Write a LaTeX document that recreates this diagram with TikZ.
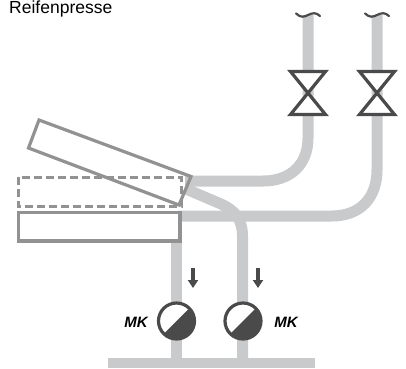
\documentclass[tikz,border=0pt]{standalone}
\usepackage{fontspec}
\setmainfont{Liberation Sans}
\usetikzlibrary{arrows.meta}
\definecolor{pipe}{HTML}{C8CACC}
\definecolor{frame}{HTML}{929292}
\definecolor{dark}{HTML}{4A4A4A}
\tikzset{
  pipeline/.style={draw=pipe,line width=11pt},
  platen/.style={draw=frame,line width=3.2pt,fill=white,miter limit=10},
  valvesym/.style={draw=dark,line width=3.2pt,line join=miter},
  wave/.style={draw=dark,line width=2.2pt,line cap=round},
  flow/.style={draw=dark,line width=3.2pt,-{Triangle[length=8pt,width=10pt]}},
  pumpring/.style={circle,draw=dark,line width=3.2pt,minimum size=36pt,inner sep=0pt,fill=white},
  mk/.style={font=\fontsize{15}{15}\selectfont\bfseries\itshape,text=black,inner sep=0pt},
  title/.style={font=\fontsize{17.5}{17.5}\selectfont,text=black,inner sep=0pt,anchor=base west}
}
\begin{document}
\begin{tikzpicture}[x=1pt,y=-1pt]
\useasboundingbox (0,0) rectangle (406,368);
% named reference points
\coordinate (t1) at (308,15);
\coordinate (t2) at (377,15);
\coordinate (h1) at (185,181);
\coordinate (h2) at (178,216);
\coordinate (d1) at (186,189);
\coordinate (b1) at (242.5,362);
\coordinate (b2) at (176.5,362);
\coordinate (s2) at (176.5,238);
% pipes
\draw[pipeline] (t1) -- (308,138) .. controls (308,165) and (290,181) .. (263,181) -- (h1);
\draw[pipeline] (t2) -- (377,170) .. controls (377,198) and (360,216) .. (332,216) -- (h2);
\draw[pipeline] (d1) -- (221,204) .. controls (235,210) and (242.5,220) .. (242.5,236) -- (b1);
\draw[pipeline] (s2) -- (b2);
\fill[pipe] (108,358) rectangle (315,368);
% valves
\foreach \n/\x in {a/308,b/377}{
  \node[inner sep=0pt] (valve\n) at (\x,93) {};
  \fill[white] (\x-19,71) -- (\x+19,71) -- (\x-19,115) -- (\x+19,115) -- cycle;
  \draw[valvesym] (\x-17.5,71.5) -- (\x+17.5,71.5) -- (\x-17.5,114.5) -- (\x+17.5,114.5) -- cycle;
  \draw[wave] (\x-12,13.5) .. controls (\x-7,18) and (\x-4,17) .. (\x,15) .. controls (\x+4,13) and (\x+8,12) .. (\x+12,16);
}
% press plates
\draw[platen] (18.5,212.5) rectangle (180,241);
\draw[platen,fill=none,line width=3pt,dash pattern=on 8pt off 4pt] (18,177) rectangle (181,206);
\draw[platen,fill=none] (39,120) -- (191,176.5) -- (179,205) -- (28.5,148) -- cycle;
% pumps
\foreach \n/\x in {p1/176.5,p2/243}{
  \node[pumpring] (\n) at (\x,321) {};
  \begin{scope}
    \clip (\x,321) circle (18pt);
    \fill[dark] (\x-20,341) -- (\x+20,301) -- (\x+20,341) -- cycle;
  \end{scope}
}
% arrows
\coordinate (a1s) at (193,268); \coordinate (a1e) at (193,288);
\coordinate (a2s) at (258,268); \coordinate (a2e) at (258,288);
\draw[flow] (a1s) -- (a1e);
\draw[flow] (a2s) -- (a2e);
% text
\node[title] (ttl) at (9,13.2) {Reifenpresse};
\node[mk] (mk1) at (136,322) {MK};
\node[mk] (mk2) at (286,322) {MK};
\end{tikzpicture}
\end{document}
